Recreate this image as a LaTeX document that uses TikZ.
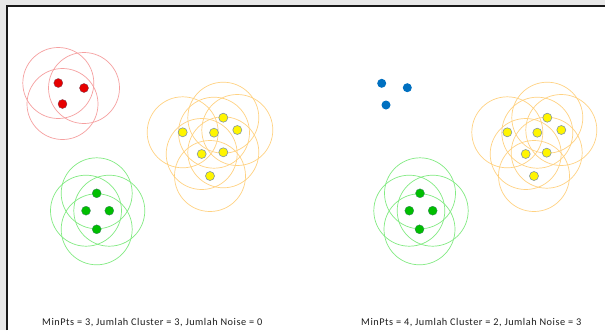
\documentclass[tikz,border=0pt]{standalone}
\usepackage{fontspec}
\setmainfont{Carlito}
\newfontfamily\capfont[LetterSpace=5]{Carlito}
\definecolor{bgray}{RGB}{232,232,232}
\definecolor{frame}{RGB}{25,25,25}
\definecolor{redring}{RGB}{246,160,160}
\definecolor{yelring}{RGB}{255,210,130}
\definecolor{grnring}{RGB}{130,235,130}
\definecolor{redfill}{RGB}{230,0,0}
\definecolor{redline}{RGB}{120,60,80}
\definecolor{yelfill}{RGB}{255,245,0}
\definecolor{yelline}{RGB}{130,150,160}
\definecolor{grnfill}{RGB}{0,190,0}
\definecolor{grnline}{RGB}{60,130,100}
\definecolor{blufill}{RGB}{0,112,192}
\definecolor{captext}{RGB}{30,30,30}
\begin{document}
\begin{tikzpicture}[x=1pt,y=-1pt,
  ring/.style={line width=0.7pt},
  redring/.style={ring,draw=redring},
  yelring/.style={ring,draw=yelring},
  grnring/.style={ring,draw=grnring},
  dot/.style={circle,minimum size=9pt,inner sep=0pt},
  reddot/.style={dot,fill=redfill,draw=redline,line width=0.3pt},
  yeldot/.style={dot,fill=yelfill,draw=yelline,line width=0.6pt},
  grndot/.style={dot,fill=grnfill,draw=grnline,line width=0.3pt},
  bludot/.style={dot,fill=blufill},
  caption/.style={font=\capfont\fontsize{10.3}{12}\selectfont,text=captext,anchor=west,inner sep=0pt}]
\useasboundingbox (0,0) rectangle (605,330);
\fill[bgray] (0,0) rectangle (605,330);
\fill[white] (7,6) rectangle (605,330);
\draw[line width=2pt,frame] (6.5,330) -- (6.5,5.5) -- (605,5.5);
\def\rr{35.5}
% left: red cluster
\foreach \n/\x/\y in {r1/58.3/83,r2/84/88,r3/62.5/104}{\coordinate (\n) at (\x,\y);}
\foreach \n in {r1,r2,r3}{\draw[redring] (\n) circle (\rr);}
% left: yellow cluster
\foreach \n/\x/\y in {y1/223.3/117.7,y2/182.7/132.3,y3/214/132.7,y4/237.3/130,y5/201.7/154,y6/223.3/152.3,y7/210/176}{\coordinate (\n) at (\x,\y);}
\foreach \n in {y1,y2,y3,y4,y5,y6,y7}{\draw[yelring] (\n) circle (\rr);}
% left: green cluster
\foreach \n/\x/\y in {g1/96.7/193.3,g2/86/210.7,g3/109.3/210.7,g4/96.7/229.3}{\coordinate (\n) at (\x,\y);}
\foreach \n in {g1,g2,g3,g4}{\draw[grnring] (\n) circle (\rr);}
% right: yellow cluster
\foreach \n/\x/\y in {Y1/547.3/117.7,Y2/507.3/132.3,Y3/537.3/132.7,Y4/561.3/130,Y5/525.7/154,Y6/546.7/152.7,Y7/534/176}{\coordinate (\n) at (\x,\y);}
\foreach \n in {Y1,Y2,Y3,Y4,Y5,Y6,Y7}{\draw[yelring] (\n) circle (\rr);}
% right: green cluster
\foreach \n/\x/\y in {G1/420/193.3,G2/409.3/210.7,G3/432.7/210.7,G4/419.5/229.3}{\coordinate (\n) at (\x,\y);}
\foreach \n in {G1,G2,G3,G4}{\draw[grnring] (\n) circle (\rr);}
% right: noise (blue)
\foreach \n/\x/\y in {B1/381.7/83.3,B2/407.3/87.7,B3/386/105}{\coordinate (\n) at (\x,\y);}
% dots
\foreach \n in {r1,r2,r3}{\node[reddot] (d\n) at (\n) {};}
\foreach \n in {y1,y2,y3,y4,y5,y6,y7,Y1,Y2,Y3,Y4,Y5,Y6,Y7}{\node[yeldot] (d\n) at (\n) {};}
\foreach \n in {g1,g2,g3,g4,G1,G2,G3,G4}{\node[grndot] (d\n) at (\n) {};}
\foreach \n in {B1,B2,B3}{\node[bludot] (d\n) at (\n) {};}
% captions
\node[caption] (capL) at (42,322.5) {MinPts = 3, Jumlah Cluster = 3, Jumlah Noise = 0};
\node[caption] (capR) at (361,322.5) {MinPts = 4, Jumlah Cluster = 2, Jumlah Noise = 3};
\end{tikzpicture}
\end{document}
